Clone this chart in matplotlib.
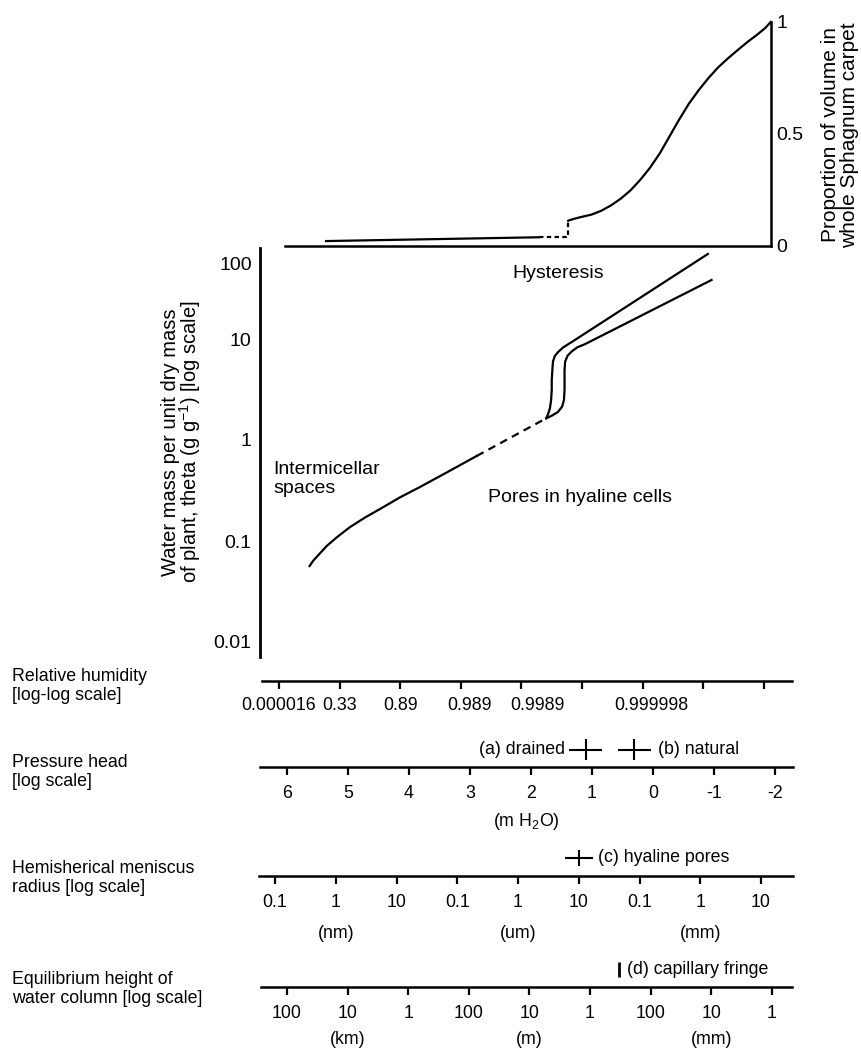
import matplotlib
matplotlib.use('Agg')
import matplotlib.pyplot as plt

plt.rcParams['font.family'] = ['Liberation Sans', 'DejaVu Sans']
plt.rcParams['mathtext.fontset'] = 'custom'
plt.rcParams['mathtext.rm'] = 'Liberation Sans'
plt.rcParams['mathtext.it'] = 'Liberation Sans:italic'
plt.rcParams['font.size'] = 12.8

# --- data (x of top and main panels = pressure head, log10 m H2O) ---
top_flat_x = [5.36, 1.87]
top_flat_y = [0.022, 0.039]
top_gap_x = [1.87, 1.39, 1.39]
top_gap_y = [0.039, 0.039, 0.113]
top_curve_x = [1.39, 1.30, 1.17, 1.01, 0.85, 0.69, 0.53, 0.37, 0.21, 0.05, -0.11, -0.27,
               -0.43, -0.59, -0.75, -0.91, -1.07, -1.23, -1.39, -1.55, -1.71, -1.84, -1.93]
top_curve_y = [0.113, 0.121, 0.130, 0.140, 0.157, 0.181, 0.211, 0.248, 0.295, 0.349, 0.413, 0.489,
               0.565, 0.636, 0.696, 0.750, 0.798, 0.838, 0.875, 0.911, 0.944, 0.973, 1.0]
top_ticks = [0, 0.5, 1]
top_ticklabels = ['0', '0.5', '1']

theta_x = [5.63, 5.57, 5.47, 5.35, 5.19, 4.97, 4.72, 4.46, 4.15, 3.83, 3.36, 2.89]
theta_y = [0.0565, 0.0638, 0.0743, 0.0891, 0.108, 0.137, 0.171, 0.210, 0.270, 0.340, 0.485, 0.695]
theta_gap_x = [2.89, 1.75]
theta_gap_y = [0.695, 1.64]
upper_x = [1.75, 1.72, 1.69, 1.67, 1.66, 1.66, 1.65, 1.64, 1.61, 1.55, 1.47, 1.34, -0.90]
upper_y = [1.64, 1.81, 2.06, 2.49, 3.13, 3.93, 4.93, 5.97, 6.79, 7.49, 8.28, 9.27, 69.5]
lower_x = [1.75, 1.66, 1.56, 1.49, 1.46, 1.45, 1.45, 1.45, 1.44, 1.40, 1.33, 1.24, 1.12, -0.96]
lower_y = [1.64, 1.74, 1.89, 2.14, 2.49, 3.13, 3.93, 4.93, 5.97, 6.84, 7.55, 8.28, 8.86, 38.4]
theta_ticks = [0.01, 0.1, 1, 10]
theta_ticklabels = ['0.01', '0.1', '1', '10']

rh_ticks = [0, 1, 2, 3, 4, 5, 6, 7, 8]
rh_labels = ['0.000016', '0.33', '0.89', '0.989', '0.9989', '0.999998']
rh_label_pos = [0, 1, 2, 3.15, 4.26, 6.14]

head_ticks = [6, 5, 4, 3, 2, 1, 0, -1, -2]
head_labels = ['6', '5', '4', '3', '2', '1', '0', '-1', '-2']
drained, natural, head_err = 1.10, 0.31, 0.27

radius_ticks = [-10, -9, -8, -7, -6, -5, -4, -3, -2]
radius_labels = ['0.1', '1', '10', '0.1', '1', '10', '0.1', '1', '10']
radius_units = ['(nm)', '(um)', '(mm)']
radius_unit_pos = [-9, -6, -3]
hyaline, radius_err = -5.0, 0.23

height_ticks = [5, 4, 3, 2, 1, 0, -1, -2, -3]
height_labels = ['100', '10', '1', '100', '10', '1', '100', '10', '1']
height_units = ['(km)', '(m)', '(mm)']
height_unit_pos = [4, 1, -2]
fringe = -0.48

W, H = 861, 1050
fig = plt.figure(figsize=(W / 100, H / 100), dpi=100)


def box(x0, y0, x1, y1):
    return [x0 / W, 1 - y1 / H, (x1 - x0) / W, (y1 - y0) / H]


def head_at(px):
    return 6 - (px - 287) / 61


def theta_at(py):
    return 10 ** (-(py - 440) / 101)


# top panel
ax_top = fig.add_axes(box(285, 22, 771, 246))
ax_top.set_xlim(head_at(285), head_at(771))
ax_top.set_ylim(0, 1)
for s in ['left', 'top']:
    ax_top.spines[s].set_visible(False)
for s in ['bottom', 'right']:
    ax_top.spines[s].set_linewidth(1.8)
ax_top.set_xticks([])
ax_top.yaxis.tick_right()
ax_top.set_yticks(top_ticks, top_ticklabels, fontsize=14)
ax_top.tick_params(axis='y', length=0, pad=4)
ax_top.patch.set_alpha(0)
ax_top.plot(top_flat_x, top_flat_y, color='black', lw=1.6, clip_on=False)
ax_top.plot(top_gap_x, top_gap_y, color='black', lw=1.6, ls=(0, (2, 1.5)), clip_on=False)
ax_top.plot(top_curve_x, top_curve_y, color='black', lw=1.6, clip_on=False)
fig.text(840 / W, 1 - 135 / H, 'Proportion of volume in\nwhole Sphagnum carpet',
         rotation=90, ha='center', va='center', fontsize=15, linespacing=1.0)

# main panel
ax = fig.add_axes(box(260, 220, 793, 657))
ax.set_yscale('log')
ax.set_xlim(head_at(260), head_at(793))
ax.set_ylim(theta_at(657), theta_at(220))
for s in ['right', 'top', 'bottom']:
    ax.spines[s].set_visible(False)
ax.spines['left'].set_linewidth(2)
ax.spines['left'].set_bounds(theta_at(657), theta_at(248))
ax.set_xticks([])
ax.set_yticks(theta_ticks, theta_ticklabels, fontsize=14)
ax.yaxis.set_minor_locator(plt.NullLocator())
ax.tick_params(axis='y', length=0, pad=6)
ax.annotate('100', xy=(0, 100), xycoords=('axes fraction', 'data'), textcoords='offset pixels',
            xytext=(-8, -28), ha='right', va='center', fontsize=14)
ax.patch.set_alpha(0)
ax.plot(theta_x, theta_y, color='black', lw=1.6)
ax.plot(theta_gap_x, theta_gap_y, color='black', lw=1.6, ls=(0, (3.5, 2.5)))
ax.plot(upper_x, upper_y, color='black', lw=1.6)
ax.plot(lower_x, lower_y, color='black', lw=1.6)
ax.text(head_at(558), theta_at(274), 'Hysteresis', ha='center', va='center', fontsize=14)
ax.text(head_at(273), theta_at(479), 'Intermicellar\nspaces', ha='left', va='center', fontsize=14)
ax.text(head_at(580), theta_at(497), 'Pores in hyaline cells', ha='center', va='center', fontsize=14)
fig.text(182 / W, 1 - 442 / H,
         'Water mass per unit dry mass\nof plant, theta (g g$^{-1}$) [log scale]',
         rotation=90, ha='center', va='center', fontsize=14.5, linespacing=0.85)


def scale_axis(x0, x1, line_y):
    a = fig.add_axes(box(x0, line_y - 30, x1, line_y))
    a.set_ylim(0, 1)
    for s in ['left', 'right', 'top']:
        a.spines[s].set_visible(False)
    a.spines['bottom'].set_linewidth(1.8)
    a.set_yticks([])
    a.tick_params(axis='x', direction='out', length=6, width=1.6, pad=7)
    a.patch.set_alpha(0)
    return a


def side_label(text, y):
    fig.text(12 / W, 1 - y / H, text, ha='left', va='center')


# relative humidity
ax_rh = scale_axis(262, 792, 681)
ax_rh.set_xlim(-17 / 60.6, 513 / 60.6)
ax_rh.xaxis.remove_overlapping_locs = False
ax_rh.set_xticks(rh_ticks, [''] * len(rh_ticks))
ax_rh.set_xticks(rh_label_pos, rh_labels, minor=True)
ax_rh.tick_params(axis='x', which='minor', length=0, pad=11.3)
side_label('Relative humidity\n[log-log scale]', 686)

# pressure head
ax_ph = scale_axis(260, 793, 767)
ax_ph.set_xlim(head_at(260), head_at(793))
ax_ph.set_xticks(head_ticks, head_labels)
ax_ph.errorbar([drained, natural], [0.57, 0.57], xerr=head_err, yerr=0.35,
               fmt='none', ecolor='black', elinewidth=1.5, capsize=0, clip_on=False)
ax_ph.annotate('(a) drained', xy=(drained + head_err, 0.57), textcoords='offset pixels',
               xytext=(-4, 0), ha='right', va='center')
ax_ph.annotate('(b) natural', xy=(natural - head_err, 0.57), textcoords='offset pixels',
               xytext=(7, 0), ha='left', va='center')
ax_ph.annotate('(m H$_2$O)', xy=(2.07, 0), xycoords=('data', 'axes fraction'),
               textcoords='offset pixels', xytext=(0, -54), ha='center', va='center')
side_label('Pressure head\n[log scale]', 772)

# meniscus radius
ax_r = scale_axis(259, 793, 876)
ax_r.set_xlim(-10 - 16 / 60.75, -10 + 518 / 60.75)
ax_r.set_xticks(radius_ticks, radius_labels)
ax_r.errorbar([hyaline], [0.6], xerr=radius_err, yerr=0.28,
              fmt='none', ecolor='black', elinewidth=1.5, capsize=0, clip_on=False)
ax_r.annotate('(c) hyaline pores', xy=(hyaline + radius_err, 0.6), textcoords='offset pixels',
              xytext=(5, 0), ha='left', va='center')
for u, p in zip(radius_units, radius_unit_pos):
    ax_r.annotate(u, xy=(p, 0), xycoords=('data', 'axes fraction'),
                  textcoords='offset pixels', xytext=(0, -58), ha='center', va='center')
side_label('Hemisherical meniscus\nradius [log scale]', 878)

# equilibrium height
ax_h = scale_axis(261, 792, 987)
ax_h.set_xlim(5 + 26 / 60.6, 5 - 505 / 60.6)
ax_h.set_xticks(height_ticks, height_labels)
ax_h.errorbar([fringe], [0.58], yerr=0.25, fmt='none', ecolor='black',
              elinewidth=2, capsize=0, clip_on=False)
ax_h.annotate('(d) capillary fringe', xy=(fringe, 0.58), textcoords='offset pixels',
              xytext=(8, 0), ha='left', va='center')
for u, p in zip(height_units, height_unit_pos):
    ax_h.annotate(u, xy=(p, 0), xycoords=('data', 'axes fraction'),
                  textcoords='offset pixels', xytext=(0, -53), ha='center', va='center')
side_label('Equilibrium height of\nwater column [log scale]', 989)

fig.savefig('out.png', dpi=100)
